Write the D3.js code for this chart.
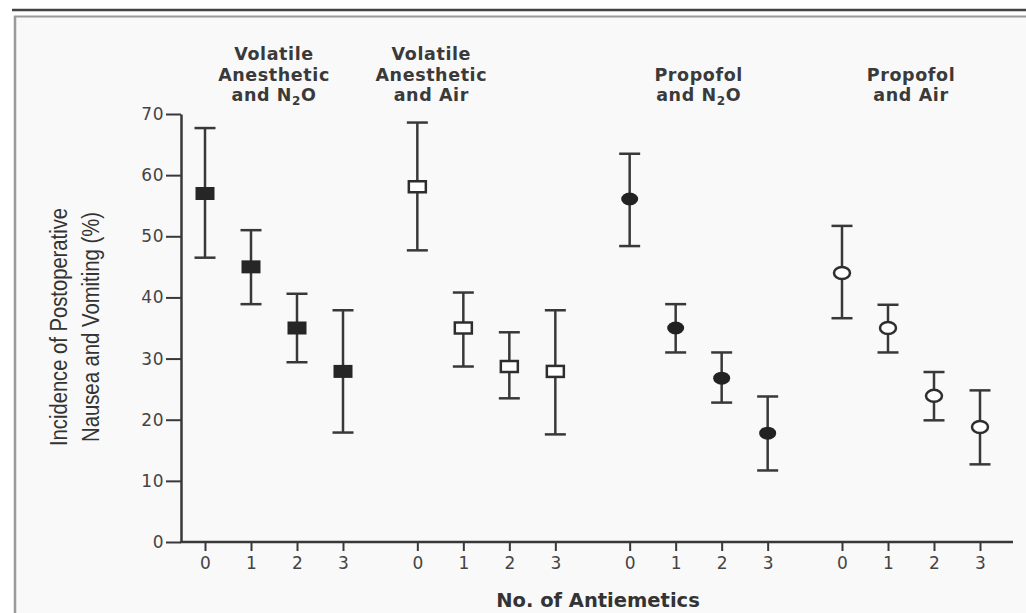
<!DOCTYPE html>
<html>
<head>
<meta charset="utf-8">
<script src="https://d3js.org/d3.v7.min.js"></script>
<style>
  html, body { margin: 0; padding: 0; background: #ffffff; }
  svg { display: block; }
</style>
</head>
<body>
<div class="chart"></div>
<script>
// data
var groupNames = ["VA_N2O", "VA_Air", "P_N2O", "P_Air"];
var groupHeaders = [
  ["Volatile", "Anesthetic", "and N_2O"],
  ["Volatile", "Anesthetic", "and Air"],
  ["Propofol", "and N_2O"],
  ["Propofol", "and Air"]
];
var antiemetics = [0, 1, 2, 3];
var meanPct = [
  [57.0, 45.0, 35.0, 27.9],
  [58.1, 35.0, 28.7, 27.9],
  [56.1, 35.0, 26.8, 17.8],
  [44.0, 35.0, 23.9, 18.8]
];
var upperPct = [
  [67.7, 51.0, 40.6, 37.9],
  [68.6, 40.8, 34.3, 37.9],
  [63.5, 38.9, 31.0, 23.8],
  [51.7, 38.8, 27.8, 24.8]
];
var lowerPct = [
  [46.5, 38.9, 29.4, 17.9],
  [47.7, 28.7, 23.5, 17.6],
  [48.4, 31.0, 22.8, 11.7],
  [36.6, 31.0, 19.9, 12.7]
];
var markerKinds = ["filledSquare", "openSquare", "filledCircle", "openCircle"];
var yTicks = [0, 10, 20, 30, 40, 50, 60, 70];

var svgWidth = 1026;
var svgHeight = 613;
var axisX = 181, axisBottom = 542, axisTop = 114, axisRight = 1013;
var ink = "#383838";
var headerShift = [0, -55, 0, 0];

var svg = d3.select(".chart")
  .append("svg")
  .attr("width", svgWidth)
  .attr("height", svgHeight);

// frame: panel, double rule on top, left rule
svg.append("rect")
  .attr("x", 15).attr("y", 17)
  .attr("width", svgWidth - 15).attr("height", svgHeight - 17)
  .attr("fill", "#f9f9f9");
svg.append("line")
  .attr("x1", 12).attr("x2", svgWidth).attr("y1", 10).attr("y2", 10)
  .attr("stroke", "#444").attr("stroke-width", 2.5);
svg.append("line")
  .attr("x1", 14).attr("x2", svgWidth).attr("y1", 16.5).attr("y2", 16.5)
  .attr("stroke", "#9a9a9a").attr("stroke-width", 2);
svg.append("line")
  .attr("x1", 15).attr("x2", 15).attr("y1", 16).attr("y2", svgHeight)
  .attr("stroke", "#9a9a9a").attr("stroke-width", 2.5);

// scales
var y = d3.scaleLinear().domain([0, 70]).range([axisBottom, axisTop]);
var xGroup = d3.scalePoint().domain(groupNames).range([205, 842]);
var xInner = d3.scaleLinear().domain([0, 3]).range([0, 138]);
function xPos(g, i) { return xGroup(groupNames[g]) + xInner(i); }

// y axis
var yAxis = svg.append("g")
  .attr("transform", `translate(${axisX},0)`)
  .call(d3.axisLeft(y).tickValues(yTicks).tickSize(15).tickPadding(2).tickSizeOuter(0));
yAxis.select(".domain").attr("stroke", ink).attr("stroke-width", 2.5);
yAxis.selectAll(".tick line").attr("stroke", ink).attr("stroke-width", 2);
yAxis.selectAll(".tick text")
  .attr("fill", "#444")
  .style("font-family", "DejaVu Sans, sans-serif")
  .style("font-size", "17px")
  .style("letter-spacing", "0.5px");

// x axis line
svg.append("line")
  .attr("x1", axisX - 1).attr("x2", axisRight)
  .attr("y1", axisBottom).attr("y2", axisBottom)
  .attr("stroke", ink).attr("stroke-width", 2.5);

// x ticks per group
groupNames.forEach(function (name, g) {
  var ax = svg.append("g")
    .attr("transform", `translate(${xGroup(name)},${axisBottom})`)
    .call(d3.axisBottom(xInner).tickValues(antiemetics).tickFormat(d3.format("d"))
      .tickSize(9).tickPadding(6).tickSizeOuter(0));
  ax.select(".domain").remove();
  ax.selectAll(".tick line").attr("stroke", ink).attr("stroke-width", 2);
  ax.selectAll(".tick text")
    .attr("fill", "#444")
    .style("font-family", "DejaVu Sans, sans-serif")
    .style("font-size", "17px");
});

// x title
svg.append("text")
  .attr("x", 598).attr("y", 607)
  .attr("text-anchor", "middle")
  .attr("fill", "#333")
  .style("font-family", "DejaVu Sans, sans-serif")
  .style("font-weight", "bold")
  .style("font-size", "19.5px")
  .text("No. of Antiemetics");

// y title, two lines, condensed
var yTitle = ["Incidence of Postoperative", "Nausea and Vomiting (%)"];
yTitle.forEach(function (t, k) {
  svg.append("text")
    .attr("transform", `translate(${67 + k * 32},327) rotate(-90)`)
    .attr("text-anchor", "middle")
    .attr("fill", "#333")
    .attr("textLength", k === 0 ? 238 : 230)
    .attr("lengthAdjust", "spacingAndGlyphs")
    .style("font-family", "Liberation Sans Narrow, Liberation Sans, sans-serif")
    .style("font-size", "23px")
    .text(t);
});

// group headers (last line sits on a common baseline)
groupHeaders.forEach(function (lines, g) {
  var cx = xPos(g, 1.5) + headerShift[g];
  lines.forEach(function (line, k) {
    var baseline = 101 - (lines.length - 1 - k) * 20.5;
    var txt = svg.append("text")
      .attr("x", cx).attr("y", baseline)
      .attr("text-anchor", "middle")
      .attr("fill", "#3a3a3a")
      .style("font-family", "DejaVu Sans, sans-serif")
      .style("font-weight", "bold")
      .style("font-size", "17.5px")
      .style("letter-spacing", "0.6px");
    var parts = line.split("_");
    if (parts.length === 1) {
      txt.text(line);
    } else {
      txt.append("tspan").text(parts[0]);
      txt.append("tspan").attr("dy", 4).style("font-size", "12px").text(parts[1][0]);
      txt.append("tspan").attr("dy", -4).text(parts[1].slice(1));
    }
  });
});

// points
var points = [];
groupNames.forEach(function (name, g) {
  antiemetics.forEach(function (n, i) {
    points.push({ g: g, i: i, mean: meanPct[g][i], hi: upperPct[g][i], lo: lowerPct[g][i], kind: markerKinds[g] });
  });
});

var bars = svg.append("g").selectAll("g")
  .data(points)
  .enter()
  .append("g")
  .attr("transform", d => `translate(${xPos(d.g, d.i)},0)`);

bars.append("line")
  .attr("x1", 0).attr("x2", 0)
  .attr("y1", d => y(d.hi)).attr("y2", d => y(d.lo))
  .attr("stroke", ink).attr("stroke-width", 2.5);
bars.append("line")
  .attr("x1", -10.5).attr("x2", 10.5)
  .attr("y1", d => y(d.hi)).attr("y2", d => y(d.hi))
  .attr("stroke", ink).attr("stroke-width", 2.5);
bars.append("line")
  .attr("x1", -10.5).attr("x2", 10.5)
  .attr("y1", d => y(d.lo)).attr("y2", d => y(d.lo))
  .attr("stroke", ink).attr("stroke-width", 2.5);

bars.filter(d => d.kind === "filledSquare")
  .append("rect")
  .attr("x", -9.5).attr("y", d => y(d.mean) - 6.5)
  .attr("width", 19).attr("height", 13)
  .attr("fill", "#262626");
bars.filter(d => d.kind === "openSquare")
  .append("rect")
  .attr("x", -8.5).attr("y", d => y(d.mean) - 5.5)
  .attr("width", 17).attr("height", 11)
  .attr("fill", "#fff").attr("stroke", "#2e2e2e").attr("stroke-width", 2.5);
bars.filter(d => d.kind === "filledCircle")
  .append("ellipse")
  .attr("cx", 0).attr("cy", d => y(d.mean))
  .attr("rx", 8.5).attr("ry", 6.5)
  .attr("fill", "#222");
bars.filter(d => d.kind === "openCircle")
  .append("ellipse")
  .attr("cx", 0).attr("cy", d => y(d.mean))
  .attr("rx", 8).attr("ry", 6)
  .attr("fill", "#fff").attr("stroke", "#2e2e2e").attr("stroke-width", 2.5);
</script>
</body>
</html>
